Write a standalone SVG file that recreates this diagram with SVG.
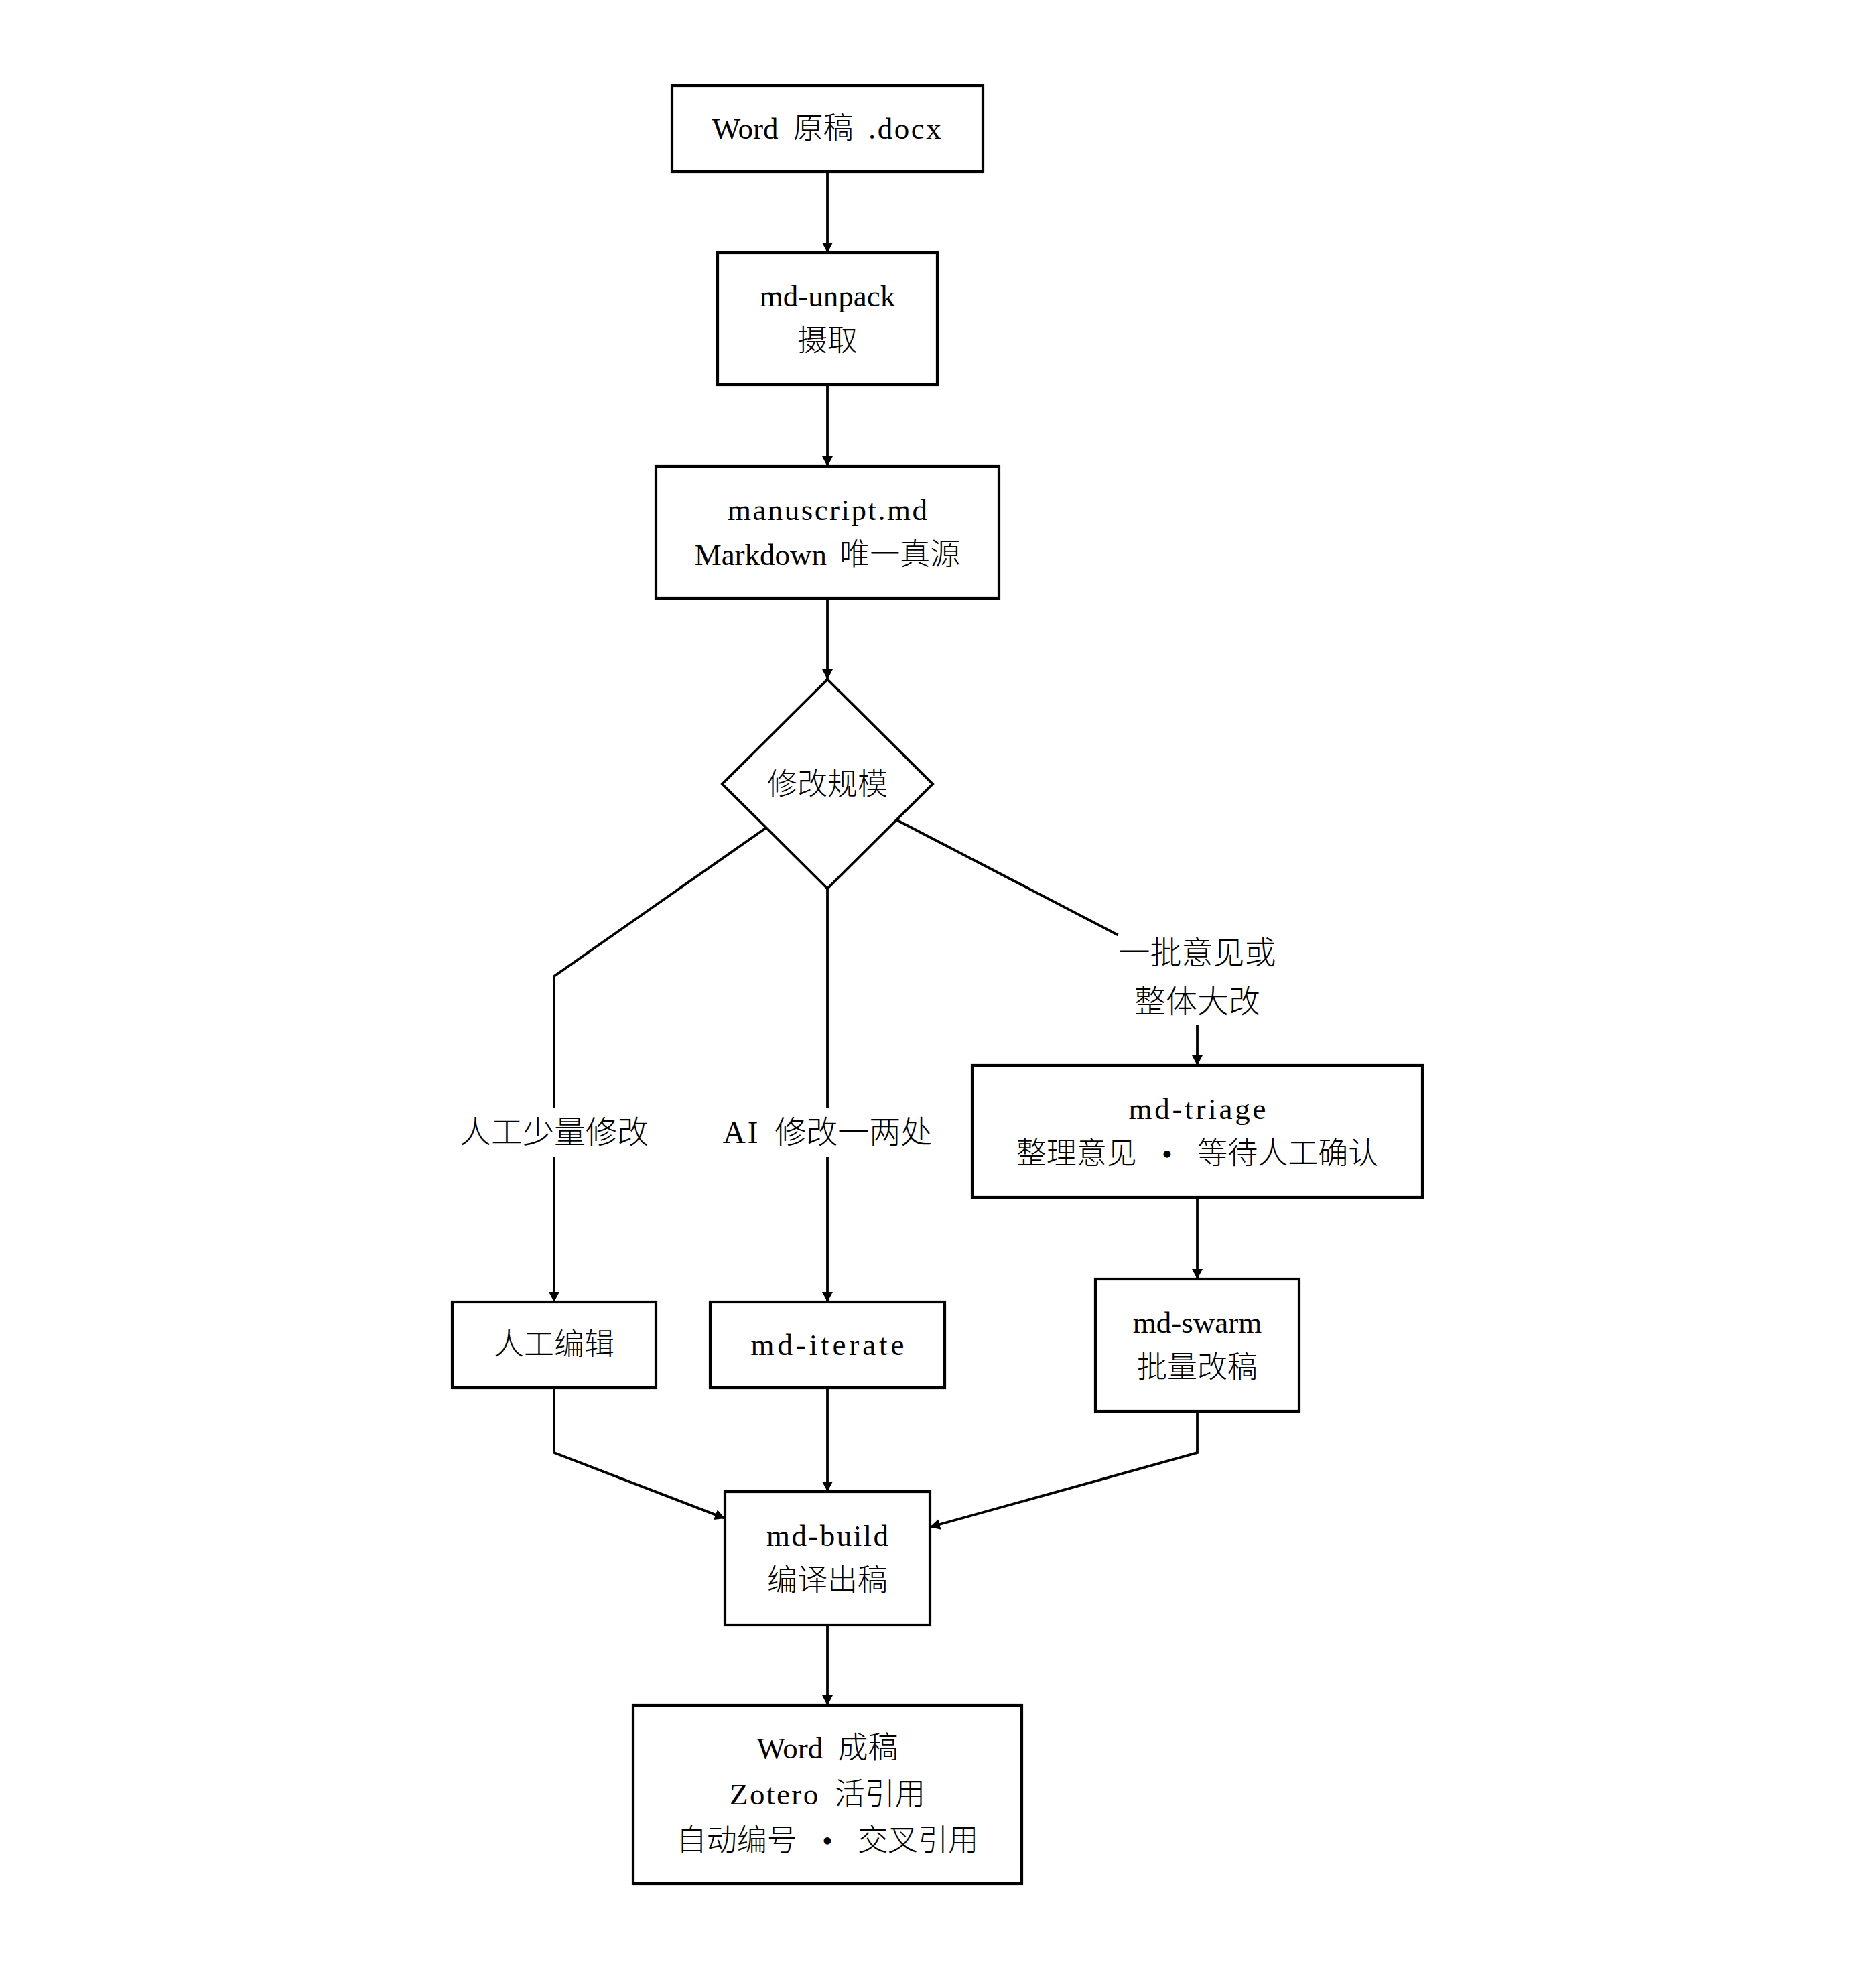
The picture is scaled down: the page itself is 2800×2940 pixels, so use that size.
<svg xmlns="http://www.w3.org/2000/svg" width="2800" height="2940" viewBox="0 0 2800 2940">
<defs>
<marker id="arrow" markerUnits="userSpaceOnUse" markerWidth="16" markerHeight="16" refX="15" refY="8" orient="auto">
<path d="M0,0 L15,8 L0,16 z" fill="#000"/>
</marker>
<style>
.box{fill:#fff;stroke:#000;stroke-width:4.2}
.dia{fill:#fff;stroke:#000;stroke-width:3.8}
.edge{fill:none;stroke:#000;stroke-width:3.8;marker-end:url(#arrow)}
.t{font-family:'Liberation Serif','Noto Sans CJK SC',serif;font-size:45px;font-weight:300;fill:#000;text-anchor:middle}
.lbl{font-family:'Liberation Serif','Noto Sans CJK SC',serif;font-size:47px;font-weight:300;fill:#000;text-anchor:middle}
.lbg{fill:#fff;stroke:none}
</style>
</defs>
<rect x="0" y="0" width="2800" height="2940" fill="#fff"/>
<g id="connectors">
<path class="edge" d="M1235,256 V377"/>
<path class="edge" d="M1235,574 V696"/>
<path class="edge" d="M1235,893 V1014"/>
<path class="edge" d="M1144,1235 L827,1457 V1943"/>
<path class="edge" d="M1235,1326 V1943"/>
<path class="edge" d="M1339,1224 L1787,1457 V1590"/>
<path class="edge" d="M1787,1787 V1909"/>
<path class="edge" d="M827,2071 V2168 L1082,2266"/>
<path class="edge" d="M1235,2071 V2226"/>
<path class="edge" d="M1787,2106 V2168 L1388,2279"/>
<path class="edge" d="M1235,2425 V2545"/>
</g>
<g id="edge-labels">
<g id="label-manual">
<rect class="lbg" x="686" y="1653" width="282" height="73"/>
<text class="lbl" x="827" y="1706">人工少量修改</text>
</g>
<g id="label-ai">
<rect class="lbg" x="1080" y="1653" width="310" height="73"/>
<text class="lbl" x="1235" y="1706"><tspan letter-spacing="3">AI</tspan> <tspan dx="10">修改一两处</tspan></text>
</g>
<g id="label-batch">
<rect class="lbg" x="1668" y="1394" width="238" height="136"/>
<text class="lbl" x="1787" y="1438">一批意见或</text>
<text class="lbl" x="1787" y="1511">整体大改</text>
</g>
</g>
<g id="node-word-src">
<rect class="box" x="1003" y="128" width="464" height="128"/>
<text class="t" x="1235" y="207">Word <tspan dx="11">原稿</tspan> <tspan dx="11" letter-spacing="2.5">.docx</tspan></text>
</g>
<g id="node-unpack">
<rect class="box" x="1071" y="377" width="328" height="197"/>
<text class="t" x="1235" y="457">md-unpack</text>
<text class="t" x="1235" y="524">摄取</text>
</g>
<g id="node-manuscript">
<rect class="box" x="979" y="696" width="512" height="197"/>
<text class="t" x="1235" y="776" textLength="298" lengthAdjust="spacing">manuscript.md</text>
<text class="t" x="1235" y="843">Markdown <tspan dx="8">唯一真源</tspan></text>
</g>
<g id="node-scale">
<polygon class="dia" points="1235,1014 1392,1170 1235,1326 1078,1170"/>
<text class="t" x="1235" y="1186">修改规模</text>
</g>
<g id="node-manual-edit">
<rect class="box" x="675" y="1943" width="304" height="128"/>
<text class="t" x="827" y="2022">人工编辑</text>
</g>
<g id="node-iterate">
<rect class="box" x="1060" y="1943" width="350" height="128"/>
<text class="t" x="1235" y="2022" textLength="229" lengthAdjust="spacing">md-iterate</text>
</g>
<g id="node-triage">
<rect class="box" x="1451" y="1590" width="672" height="197"/>
<text class="t" x="1787" y="1670" textLength="205" lengthAdjust="spacing">md-triage</text>
<text class="t" x="1787" y="1737">整理意见 <tspan dx="26">•</tspan><tspan dx="26"> 等待人工确认</tspan></text>
</g>
<g id="node-swarm">
<rect class="box" x="1635" y="1909" width="304" height="197"/>
<text class="t" x="1787" y="1989">md-swarm</text>
<text class="t" x="1787" y="2056">批量改稿</text>
</g>
<g id="node-build">
<rect class="box" x="1082" y="2226" width="306" height="199"/>
<text class="t" x="1235" y="2307" textLength="182" lengthAdjust="spacing">md-build</text>
<text class="t" x="1235" y="2374">编译出稿</text>
</g>
<g id="node-word-out">
<rect class="box" x="945" y="2545" width="580" height="266"/>
<text class="t" x="1235" y="2624">Word <tspan dx="11">成稿</tspan></text>
<text class="t" x="1235" y="2693"><tspan letter-spacing="2.5">Zotero</tspan> <tspan dx="11">活引用</tspan></text>
<text class="t" x="1235" y="2762">自动编号 <tspan dx="26">•</tspan><tspan dx="26"> 交叉引用</tspan></text>
</g>
</svg>
